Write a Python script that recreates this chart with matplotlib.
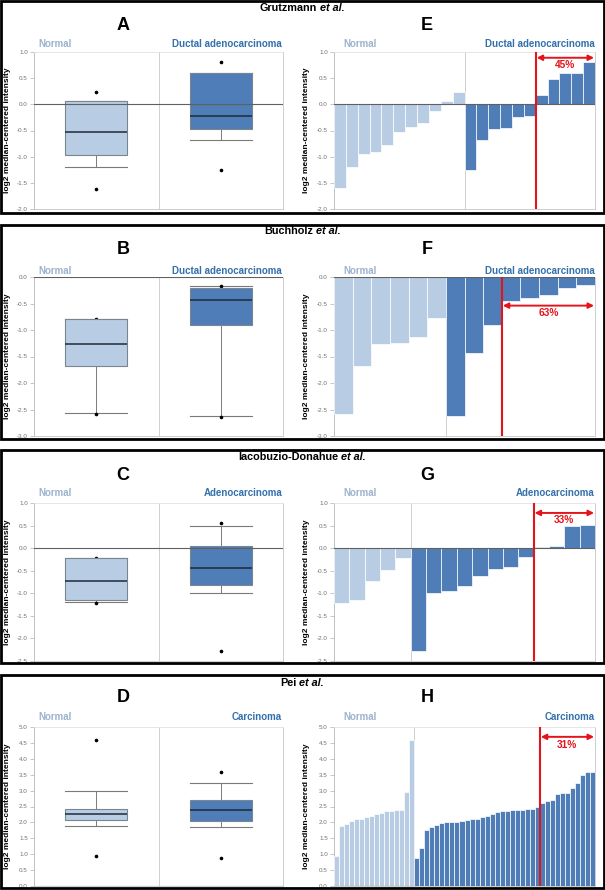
import matplotlib
matplotlib.use('Agg')
import matplotlib.pyplot as plt
from matplotlib.patches import Rectangle
import numpy as np

plt.rcParams['font.family'] = ['Liberation Sans', 'DejaVu Sans']
plt.rcParams['axes.unicode_minus'] = False

W, H = 605, 890

# ---------------- data ----------------
study_names = ["Grutzmann", "Buchholz", "Iacobuzio-Donahue", "Pei"]
box_letters = ["A", "B", "C", "D"]
bar_letters = ["E", "F", "G", "H"]
normal_label = "Normal"
tumor_labels = ["Ductal adenocarcinoma", "Ductal adenocarcinoma", "Adenocarcinoma", "Carcinoma"]
y_label = "log2 median-centered intensity"
y_ranges = [(-2.0, 1.0), (-3.0, 0.0), (-2.5, 1.0), (0.0, 5.0)]
pct_labels = ["45%", "63%", "33%", "31%"]
n_over = [5, 5, 4, 11]

# bar chart values (E-H)
e_normal = [-1.60, -1.20, -0.95, -0.92, -0.78, -0.53, -0.44, -0.36, -0.13, 0.07, 0.24]
e_tumor = [-1.25, -0.69, -0.47, -0.46, -0.24, -0.22, 0.17, 0.48, 0.59, 0.59, 0.80]
f_normal = [-2.58, -1.67, -1.27, -1.24, -1.13, -0.78]
f_tumor = [-2.63, -1.44, -0.90, -0.46, -0.40, -0.34, -0.20, -0.16]
g_normal = [-1.22, -1.15, -0.73, -0.48, -0.21]
g_tumor = [-2.27, -1.00, -0.96, -0.83, -0.61, -0.46, -0.41, -0.19, 0.03, 0.04, 0.48, 0.52]
h_normal = [0.93, 1.90, 1.95, 2.05, 2.10, 2.12, 2.17, 2.20, 2.27, 2.30, 2.35, 2.35,
            2.40, 2.40, 2.97, 4.60]
h_tumor = [0.87, 1.20, 1.75, 1.85, 1.92, 1.97, 2.00, 2.02, 2.02, 2.03, 2.08, 2.10,
           2.12, 2.18, 2.20, 2.27, 2.32, 2.35, 2.37, 2.38, 2.40, 2.40, 2.41, 2.43,
           2.47, 2.60, 2.68, 2.70, 2.90, 2.92, 2.92, 3.07, 3.23, 3.48, 3.60, 3.60]
bar_normals = [e_normal, f_normal, g_normal, h_normal]
bar_tumors = [e_tumor, f_tumor, g_tumor, h_tumor]

# box plot statistics (A-D): whislo, q1, med, q3, whishi, fliers
a_normal_box = dict(whislo=-1.20, q1=-0.96, med=-0.53, q3=0.07, whishi=0.07, fliers=[-1.61, 0.24])
a_tumor_box = dict(whislo=-0.69, q1=-0.47, med=-0.23, q3=0.60, whishi=0.60, fliers=[-1.26, 0.81])
b_normal_box = dict(whislo=-2.57, q1=-1.67, med=-1.27, q3=-0.79, whishi=-0.79, fliers=[-2.59, -0.79])
b_tumor_box = dict(whislo=-2.62, q1=-0.91, med=-0.44, q3=-0.20, whishi=-0.17, fliers=[-2.64, -0.17])
c_normal_box = dict(whislo=-1.20, q1=-1.15, med=-0.73, q3=-0.21, whishi=-0.21, fliers=[-1.22, -0.21])
c_tumor_box = dict(whislo=-1.00, q1=-0.82, med=-0.44, q3=0.04, whishi=0.49, fliers=[-2.27, 0.55])
d_normal_box = dict(whislo=1.90, q1=2.09, med=2.26, q3=2.41, whishi=2.98, fliers=[0.95, 4.60])
d_tumor_box = dict(whislo=1.86, q1=2.05, med=2.38, q3=2.72, whishi=3.23, fliers=[0.88, 3.60])
box_stats = [(a_normal_box, a_tumor_box), (b_normal_box, b_tumor_box),
             (c_normal_box, c_tumor_box), (d_normal_box, d_tumor_box)]

# ---------------- layout / style ----------------
rows = [
    dict(border=(1, 213), title_y=8, letter_y=26, group_y=44, ax=(52, 209), arrow=(0.89, 0.75)),
    dict(border=(225, 439), title_y=231, letter_y=249, group_y=271, ax=(277, 436), arrow=(-0.54, -0.68)),
    dict(border=(450, 663), title_y=457, letter_y=475, group_y=493, ax=(503, 661), arrow=(0.78, 0.63)),
    dict(border=(675, 888), title_y=683, letter_y=697, group_y=717, ax=(727, 886), arrow=(4.69, 4.44)),
]
box_x = (34, 283)
bar_x = (334, 595)
ylabel_x = (8, 306)

c_norm = '#B8CCE4'
c_tum = '#4F7DB8'
c_norm_txt = '#9DB3CD'
c_tum_txt = '#3370AC'
c_red = '#E5141B'
c_zero = '#606060'

fig = plt.figure(figsize=(W / 100, H / 100), dpi=100)
renderer = fig.canvas.get_renderer()


def fx(x):
    return x / W


def fy(y):
    return 1 - y / H


def style_axes(ax, ylim):
    ax.set_ylim(*ylim)
    ticks = np.arange(ylim[0], ylim[1] + 0.01, 0.5)
    ax.set_yticks(ticks)
    ax.set_yticklabels([f"{v:.1f}" for v in ticks])
    ax.tick_params(axis='y', labelsize=4.5, colors='#B0B0B0', labelcolor='#707070',
                   length=3, width=0.5, pad=1.5)
    ax.set_xticks([])
    ax.spines['left'].set_color('#B5B5B5')
    ax.spines['right'].set_color('#C5C5C5')
    ax.spines['top'].set_color('#E2E2E2')
    ax.spines['bottom'].set_color('#C5C5C5')
    for s in ax.spines.values():
        s.set_linewidth(0.6)
    if ylim[0] <= 0 <= ylim[1]:
        ax.axhline(0, color=c_zero, lw=0.8, zorder=6)


for i, r in enumerate(rows):
    b0, b1 = r['border']
    fig.patches.append(Rectangle((fx(1), fy(b1)), fx(603), (b1 - b0) / H, fill=False,
                                 ec='black', lw=2, transform=fig.transFigure, zorder=0))
    # title
    ty = fy(r['title_y'])
    t1 = fig.text(0, ty, study_names[i], fontsize=7.8, fontweight='bold', va='center', ha='left')
    t2 = fig.text(0, ty, "et al.", fontsize=7.8, fontweight='bold', fontstyle='italic',
                  va='center', ha='left')
    w1 = t1.get_window_extent(renderer).width
    w2 = t2.get_window_extent(renderer).width
    gap = 2.8
    x0 = 302 - (w1 + w2 + gap) / 2
    t1.set_x(fx(x0))
    t2.set_x(fx(x0 + w1 + gap))
    # letters
    fig.text(fx(123), fy(r['letter_y']), box_letters[i], fontsize=13, fontweight='bold',
             ha='center', va='center')
    fig.text(fx(427), fy(r['letter_y']), bar_letters[i], fontsize=13, fontweight='bold',
             ha='center', va='center')
    # group labels
    fig.text(fx(box_x[0] + 4), fy(r['group_y']), normal_label, fontsize=7, fontweight='bold',
             color=c_norm_txt, ha='left', va='center')
    fig.text(fx(box_x[1] - 1), fy(r['group_y']), tumor_labels[i], fontsize=7, fontweight='bold',
             color=c_tum_txt, ha='right', va='center')
    fig.text(fx(bar_x[0] + 9), fy(r['group_y']), normal_label, fontsize=7, fontweight='bold',
             color=c_norm_txt, ha='left', va='center')
    fig.text(fx(bar_x[1]), fy(r['group_y']), tumor_labels[i], fontsize=7, fontweight='bold',
             color=c_tum_txt, ha='right', va='center')

    top, bot = r['ax']
    ymid = fy((top + bot) / 2)
    fig.text(fx(ylabel_x[0]), ymid, y_label, rotation=90, fontsize=6, fontweight='bold',
             ha='center', va='center')
    fig.text(fx(ylabel_x[1]), ymid, y_label, rotation=90, fontsize=6, fontweight='bold',
             ha='center', va='center')

    # ----- box plot -----
    axb = fig.add_axes([fx(box_x[0]), fy(bot), (box_x[1] - box_x[0]) / W, (bot - top) / H])
    stats = [dict(s) for s in box_stats[i]]
    bp = axb.bxp(stats, positions=[0.5, 1.5], widths=0.5, capwidths=0.5, patch_artist=True,
                 showfliers=True, manage_ticks=False,
                 boxprops=dict(edgecolor='#7A8590', linewidth=0.8),
                 medianprops=dict(color='#1E2A38', linewidth=1.1),
                 whiskerprops=dict(color='#7A7A7A', linewidth=0.7),
                 capprops=dict(color='#7A7A7A', linewidth=0.8),
                 flierprops=dict(marker='o', markersize=1.6, markerfacecolor='black',
                                 markeredgecolor='black', linestyle='none'))
    style_axes(axb, y_ranges[i])
    axb.set_xlim(0, 2)
    axb.axvline(1, color='#C8C8C8', lw=0.6, zorder=1)
    for patch, col in zip(bp['boxes'], [c_norm, c_tum]):
        patch.set_facecolor(col)
        patch.set_zorder(3)
    for ln in bp['medians']:
        ln.set_zorder(7)

    # ----- bar chart -----
    axr = fig.add_axes([fx(bar_x[0]), fy(bot), (bar_x[1] - bar_x[0]) / W, (bot - top) / H])
    style_axes(axr, y_ranges[i])
    nv, tv = bar_normals[i], bar_tumors[i]
    vals = nv + tv
    N = len(vals)
    xs = np.arange(N) + 0.5
    cols = [c_norm] * len(nv) + [c_tum] * len(tv)
    axr.bar(xs, vals, width=1.0, color=cols, edgecolor='white', linewidth=0.5, zorder=3)
    axr.set_xlim(0, N)
    axr.axvline(len(nv), color='#C8C8C8', lw=0.6, zorder=1)
    xr = N - n_over[i]
    axr.axvline(xr, color=c_red, lw=1.5, zorder=8)
    ya, yt = r['arrow']
    axr.annotate('', xy=(N - 0.08 * N / 22, ya), xytext=(xr + 0.08 * N / 22, ya),
                 arrowprops=dict(arrowstyle='<|-|>', color=c_red, lw=1.4, mutation_scale=8,
                                 shrinkA=0, shrinkB=0), zorder=9)
    axr.text((xr + N) / 2, yt, pct_labels[i], color=c_red, fontsize=7.3, fontweight='bold',
             ha='center', va='center', zorder=9)

fig.savefig('out.png', dpi=100, facecolor='white')
